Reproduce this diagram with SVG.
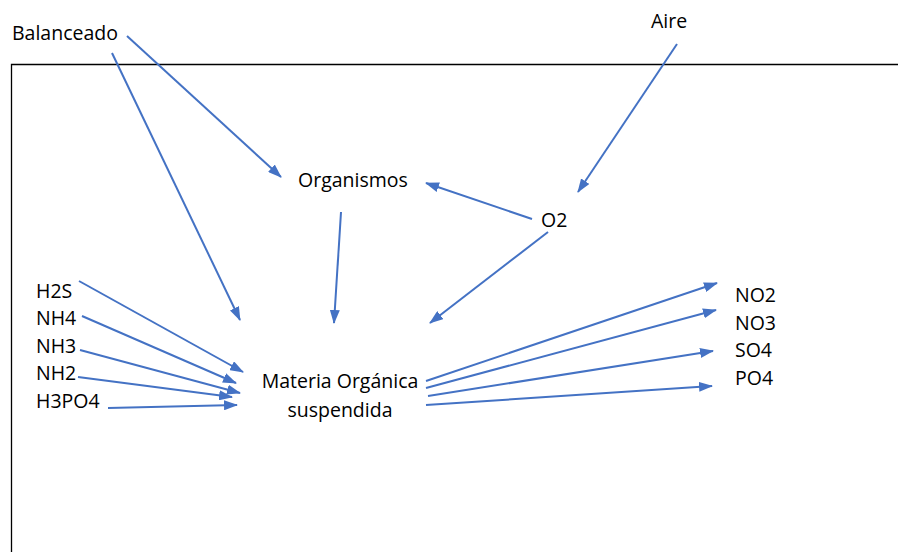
<svg xmlns="http://www.w3.org/2000/svg" width="898" height="552" viewBox="0 0 898 552">
<style>
text{font-family:"Open Sans","Liberation Sans",sans-serif;font-size:19.5px;fill:#000}
.c line{stroke:#4472C4;stroke-width:2;marker-end:url(#ah)}
</style>
<defs>
<marker id="ah" viewBox="0 0 14 10" markerWidth="14" markerHeight="10" refX="13" refY="5" orient="auto" markerUnits="userSpaceOnUse">
<path d="M0,0 L14,5 L0,10 z" fill="#4472C4"/>
</marker>
</defs>
<rect width="898" height="552" fill="#fff"/>
<path d="M11.5,552 V64.5 H898" fill="none" stroke="#000" stroke-width="1.3"/>
<g id="balanceado"><text x="12" y="40">Balanceado</text></g>
<g id="aire"><text x="651" y="28">Aire</text></g>
<g id="organismos"><text x="298" y="187">Organismos</text></g>
<g id="o2"><text x="541" y="227">O2</text></g>
<g id="h2s"><text x="36" y="298">H2S</text></g>
<g id="nh4"><text x="36" y="325">NH4</text></g>
<g id="nh3"><text x="36" y="353">NH3</text></g>
<g id="nh2"><text x="36" y="380">NH2</text></g>
<g id="h3po4"><text x="36" y="408">H3PO4</text></g>
<g id="materia"><text x="340" y="388" text-anchor="middle">Materia Orgánica</text><text x="340" y="417" text-anchor="middle">suspendida</text></g>
<g id="no2"><text x="735" y="302">NO2</text></g>
<g id="no3"><text x="735" y="330">NO3</text></g>
<g id="so4"><text x="735" y="357">SO4</text></g>
<g id="po4"><text x="735" y="385">PO4</text></g>
<g id="connectors" class="c">
<line x1="127" y1="36" x2="281" y2="177"/>
<line x1="112" y1="53" x2="240" y2="320"/>
<line x1="677" y1="44" x2="578" y2="192"/>
<line x1="532" y1="219" x2="426" y2="183"/>
<line x1="341" y1="212" x2="334" y2="323"/>
<line x1="548" y1="232" x2="430" y2="323"/>
<line x1="79" y1="281" x2="243" y2="372"/>
<line x1="82" y1="316" x2="236" y2="383"/>
<line x1="80" y1="350" x2="240" y2="393"/>
<line x1="78" y1="377" x2="232" y2="397"/>
<line x1="108" y1="408" x2="237" y2="405"/>
<line x1="426" y1="381" x2="717" y2="283"/>
<line x1="426" y1="388" x2="716" y2="310"/>
<line x1="428" y1="396" x2="713" y2="351"/>
<line x1="426" y1="405" x2="712" y2="386"/>
</g>
</svg>
